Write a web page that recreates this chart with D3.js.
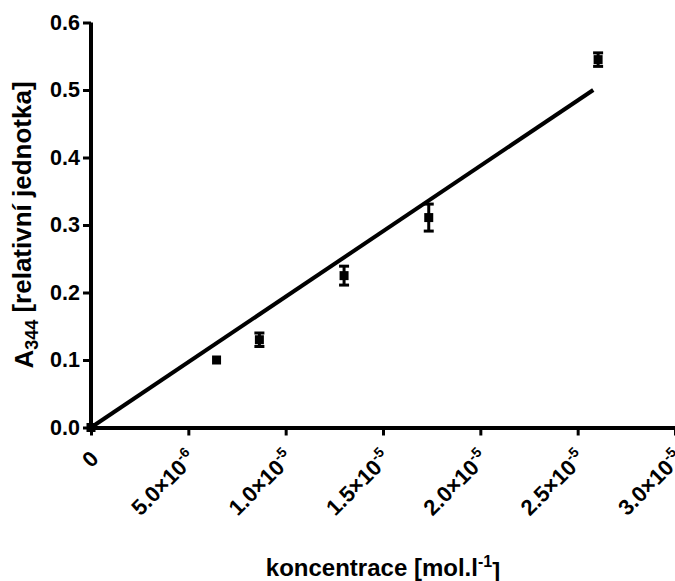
<!DOCTYPE html>
<html>
<head>
<meta charset="utf-8">
<script src="https://cdn.jsdelivr.net/npm/d3@7"></script>
<style>
  body { margin: 0; background: #fff; }
  text { font-family: "Liberation Sans", Arial, sans-serif; font-weight: bold; fill: #000; }
</style>
</head>
<body>
<svg width="675" height="581"></svg>
<script>
// measured points (mean and error)
var concX = [0, 6.45e-6, 8.65e-6, 1.30e-5, 1.735e-5, 2.605e-5];
var absY = [0, 0.100, 0.130, 0.225, 0.311, 0.545];
var absErr = [0, 0, 0.010, 0.014, 0.020, 0.010];

// fitted line
var fitX = [0, 2.58e-5];
var fitY = [0, 0.5];

var xTicks = [0, 5e-6, 1e-5, 1.5e-5, 2e-5, 2.5e-5, 3e-5];
var xTickMant = ["0", "5.0", "1.0", "1.5", "2.0", "2.5", "3.0"];
var xTickExp = ["", "-6", "-5", "-5", "-5", "-5", "-5"];
var yTicks = [0, 0.1, 0.2, 0.3, 0.4, 0.5, 0.6];

var svg = d3.select("svg");

var scX = d3.scaleLinear().domain([0, 3e-5]).range([91, 675]);
var scY = d3.scaleLinear().domain([0, 0.6]).range([427.5, 22.5]);

// fit line
var ln = d3.line().x(d => scX(d[0])).y(d => scY(d[1]));
svg.append("path")
  .attr("fill", "none").attr("stroke", "#000").attr("stroke-width", 4)
  .attr("d", ln(d3.zip(fitX, fitY)));

// axes
var yAx = svg.append("g").attr("transform", "translate(91,0)")
  .call(d3.axisLeft(scY).tickValues(yTicks).tickFormat(d3.format(".1f"))
    .tickSize(8).tickSizeOuter(0).tickPadding(3));
var xAx = svg.append("g").attr("transform", "translate(0,427.5)")
  .call(d3.axisBottom(scX).tickValues(xTicks).tickFormat("")
    .tickSize(8).tickSizeOuter(0));

[yAx, xAx].forEach(function (g) {
  g.select(".domain").attr("stroke-width", 4).attr("stroke", "#000");
  g.selectAll(".tick line").attr("stroke-width", 3).attr("stroke", "#000");
});
yAx.select(".domain").attr("d", "M0," + scY(0.6) + "V" + (scY(0) + 2));
yAx.selectAll(".tick text").attr("font-size", 21.5).attr("font-family", "Liberation Sans, Arial, sans-serif")
  .attr("font-weight", "bold").attr("fill", "#000");

// rotated x labels with superscript
xTicks.forEach(function (v, i) {
  var t = svg.append("text")
    .attr("transform", "translate(" + (scX(v) + 9) + ",460) rotate(-45)")
    .attr("text-anchor", "end").attr("font-size", 22);
  if (xTickExp[i]) {
    t.append("tspan").text(xTickMant[i] + "\u00d710");
    t.append("tspan").attr("dy", "-0.7em").attr("font-size", 14).text(xTickExp[i]);
  } else {
    t.text(xTickMant[i]);
  }
});

// error bars
var pts = d3.range(concX.length).map(i => ({ x: concX[i], y: absY[i], e: absErr[i] }));
var eb = svg.append("g").attr("stroke", "#000").attr("stroke-width", 3);
pts.filter(d => d.e > 0).forEach(function (d) {
  var cx = scX(d.x);
  eb.append("line").attr("x1", cx).attr("x2", cx)
    .attr("y1", scY(d.y - d.e)).attr("y2", scY(d.y + d.e));
  [d.y - d.e, d.y + d.e].forEach(function (yy) {
    eb.append("line").attr("x1", cx - 5).attr("x2", cx + 5)
      .attr("y1", scY(yy)).attr("y2", scY(yy));
  });
});

// square markers
svg.append("g").selectAll("rect").data(pts).enter().append("rect")
  .attr("x", d => scX(d.x) - 4.5).attr("y", d => scY(d.y) - 4.5)
  .attr("width", 9).attr("height", 9).attr("fill", "#000");

// axis titles
var yt = svg.append("text")
  .attr("transform", "translate(33,225) rotate(-90)")
  .attr("text-anchor", "middle").attr("font-size", 26);
yt.append("tspan").text("A");
yt.append("tspan").attr("dy", "0.25em").attr("font-size", 18).text("344");
yt.append("tspan").attr("dy", "-0.25em").text(" [relativní jednotka]");

var xt = svg.append("text")
  .attr("x", 383).attr("y", 576)
  .attr("text-anchor", "middle").attr("font-size", 24);
xt.append("tspan").text("koncentrace [mol.l");
xt.append("tspan").attr("dy", "-0.55em").attr("font-size", 16).text("-1");
xt.append("tspan").attr("dy", "0.55em").text("]");
</script>
</body>
</html>
